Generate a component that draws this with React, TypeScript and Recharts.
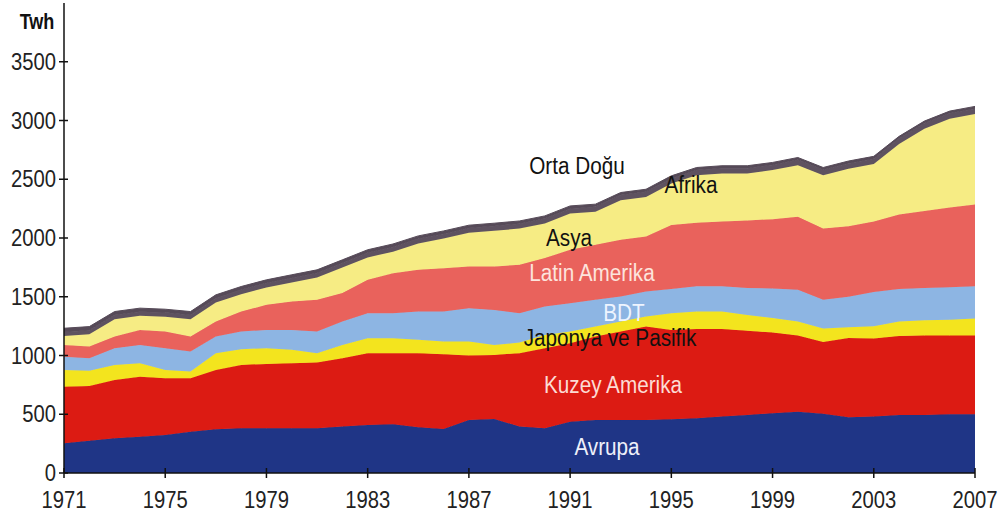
import { AreaChart, Area, XAxis, YAxis } from 'recharts'

const years = [
  1971, 1972, 1973, 1974, 1975, 1976, 1977, 1978, 1979, 1980, 1981, 1982, 1983,
  1984, 1985, 1986, 1987, 1988, 1989, 1990, 1991, 1992, 1993, 1994, 1995, 1996,
  1997, 1998, 1999, 2000, 2001, 2002, 2003, 2004, 2005, 2006, 2007,
]

// TWh per region
const avrupa = [
  253, 275, 295, 309, 324, 352, 372, 380, 380, 380, 380, 395, 409, 415, 389, 375,
  451, 460, 395, 380, 437, 451, 451, 451, 457, 466, 480, 494, 508, 522, 505, 475,
  480, 494, 494, 500, 500,
]
const kuzeyAmerika = [
  482, 466, 497, 511, 482, 454, 505, 540, 548, 554, 560, 582, 610, 604, 630, 635,
  549, 545, 625, 682, 668, 710, 753, 795, 761, 759, 745, 716, 687, 648, 610, 675,
  665, 671, 676, 670, 670,
]
const japonyaPasifik = [
  142, 129, 128, 114, 71, 57, 142, 134, 134, 114, 79, 113, 128, 128, 114, 109,
  119, 85, 90, 113, 99, 85, 85, 85, 142, 150, 150, 135, 125, 120, 115, 90, 105,
  125, 130, 135, 145,
]
const bdt = [
  113, 107, 142, 156, 185, 170, 142, 150, 156, 170, 185, 199, 213, 213, 241, 255,
  284, 298, 250, 242, 241, 228, 213, 213, 205, 215, 215, 230, 250, 270, 245, 260,
  290, 275, 275, 275, 275,
]
const latinAmerika = [
  100, 99, 99, 128, 142, 128, 128, 170, 213, 241, 270, 242, 284, 341, 355, 369,
  355, 370, 412, 412, 455, 468, 483, 469, 545, 540, 550, 575, 590, 620, 605, 600,
  600, 635, 655, 680, 695,
]
const asya = [
  77, 105, 148, 120, 125, 148, 162, 148, 148, 163, 190, 218, 191, 183, 224, 252,
  286, 303, 308, 294, 308, 281, 337, 337, 354, 405, 410, 400, 418, 440, 455, 490,
  490, 600, 700, 755, 770,
]
const afrika = [
  34, 34, 35, 35, 36, 36, 37, 37, 38, 38, 38, 39, 39, 40, 40, 40, 41, 41, 41, 42,
  42, 42, 43, 43, 43, 43, 44, 44, 44, 45, 45, 45, 45, 46, 46, 46, 46,
]
const ortaDogu = [
  31, 31, 30, 30, 29, 29, 28, 28, 27, 27, 27, 26, 26, 25, 25, 25, 24, 24, 24, 23,
  23, 23, 22, 22, 22, 22, 21, 21, 21, 20, 20, 20, 20, 19, 19, 19, 19,
]

const xTicks = [1971, 1975, 1979, 1983, 1987, 1991, 1995, 1999, 2003, 2007]
const yTicks = [0, 500, 1000, 1500, 2000, 2500, 3000, 3500]

const series = [
  { key: 'avrupa', color: '#1f3586' },
  { key: 'kuzeyAmerika', color: '#dc1b13' },
  { key: 'japonyaPasifik', color: '#f3e41e' },
  { key: 'bdt', color: '#8db5e3' },
  { key: 'latinAmerika', color: '#e9625c' },
  { key: 'asya', color: '#f6ec84' },
  { key: 'afrika', color: '#5e5260' },
  { key: 'ortaDogu', color: '#564a58' },
]

const labels = [
  { text: 'Orta Doğu', x: 577, y: 166, color: '#111' },
  { text: 'Afrika', x: 691, y: 185, color: '#111' },
  { text: 'Asya', x: 569, y: 238, color: '#111' },
  { text: 'Latin Amerika', x: 592, y: 273, color: '#fde4dc' },
  { text: 'BDT', x: 624, y: 313, color: '#eef4ff' },
  { text: 'Japonya ve Pasifik', x: 610, y: 338, color: '#111' },
  { text: 'Kuzey Amerika', x: 613, y: 385, color: '#fcdcd4' },
  { text: 'Avrupa', x: 607, y: 447, color: '#eef0fa' },
]

const data = years.map((year, i) => ({
  year,
  avrupa: avrupa[i],
  kuzeyAmerika: kuzeyAmerika[i],
  japonyaPasifik: japonyaPasifik[i],
  bdt: bdt[i],
  latinAmerika: latinAmerika[i],
  asya: asya[i],
  afrika: afrika[i],
  ortaDogu: ortaDogu[i],
}))

const FONT = '"Liberation Sans", Arial, sans-serif'

function YTick(props: any) {
  const { x, y, payload } = props
  return (
    <g>
      <line x1={x - 5} x2={x + 4} y1={y} y2={y} stroke="#111" strokeWidth={1.5} />
      <text
        transform={`translate(${x - 8},${y + 8}) scale(0.88,1)`}
        textAnchor="end"
        fontSize={23}
        fill="#222"
        fontFamily={FONT}
      >
        {payload.value}
      </text>
    </g>
  )
}

function XTick(props: any) {
  const { x, y, payload } = props
  return (
    <g>
      <line x1={x} x2={x} y1={y - 5} y2={y + 5} stroke="#111" strokeWidth={1.5} />
      <text
        transform={`translate(${x},${y + 35}) scale(0.88,1)`}
        textAnchor="middle"
        fontSize={23}
        fill="#222"
        fontFamily={FONT}
      >
        {payload.value}
      </text>
    </g>
  )
}

export default function App() {
  return (
    <div style={{ position: 'absolute', left: 0, top: 0, width: 1004, height: 519, background: '#fff' }}>
      <AreaChart
        width={1004}
        height={519}
        data={data}
        margin={{ top: 3, right: 29, left: 0, bottom: 0 }}
      >
        <XAxis
          dataKey="year"
          type="number"
          domain={[1971, 2007]}
          ticks={xTicks}
          interval={0}
          height={46}
          tickSize={0}
          tickMargin={0}
          tick={<XTick />}
          axisLine={{ stroke: '#111', strokeWidth: 1.5 }}
        />
        <YAxis
          domain={[0, 4000]}
          ticks={yTicks}
          interval={0}
          width={64}
          tickSize={0}
          tickMargin={0}
          tick={<YTick />}
          axisLine={{ stroke: '#111', strokeWidth: 1.5 }}
        />
        {series.map((s) => (
          <Area
            key={s.key}
            type="linear"
            dataKey={s.key}
            stackId="1"
            fill={s.color}
            fillOpacity={1}
            stroke={s.color}
            strokeWidth={1}
            isAnimationActive={false}
          />
        ))}
      </AreaChart>
      <div
        style={{
          position: 'absolute',
          left: 37,
          top: 22,
          transform: 'translate(-50%, -50%) scaleX(0.82)',
          fontFamily: FONT,
          fontWeight: 'bold',
          fontSize: 22,
          lineHeight: 1,
          color: '#111',
        }}
      >
        Twh
      </div>
      {labels.map((l) => (
        <div
          key={l.text}
          style={{
            position: 'absolute',
            left: l.x,
            top: l.y,
            transform: 'translate(-50%, -50%) scaleX(0.9)',
            whiteSpace: 'nowrap',
            fontFamily: FONT,
            fontSize: 23,
            color: l.color,
            lineHeight: 1,
          }}
        >
          {l.text}
        </div>
      ))}
    </div>
  )
}
